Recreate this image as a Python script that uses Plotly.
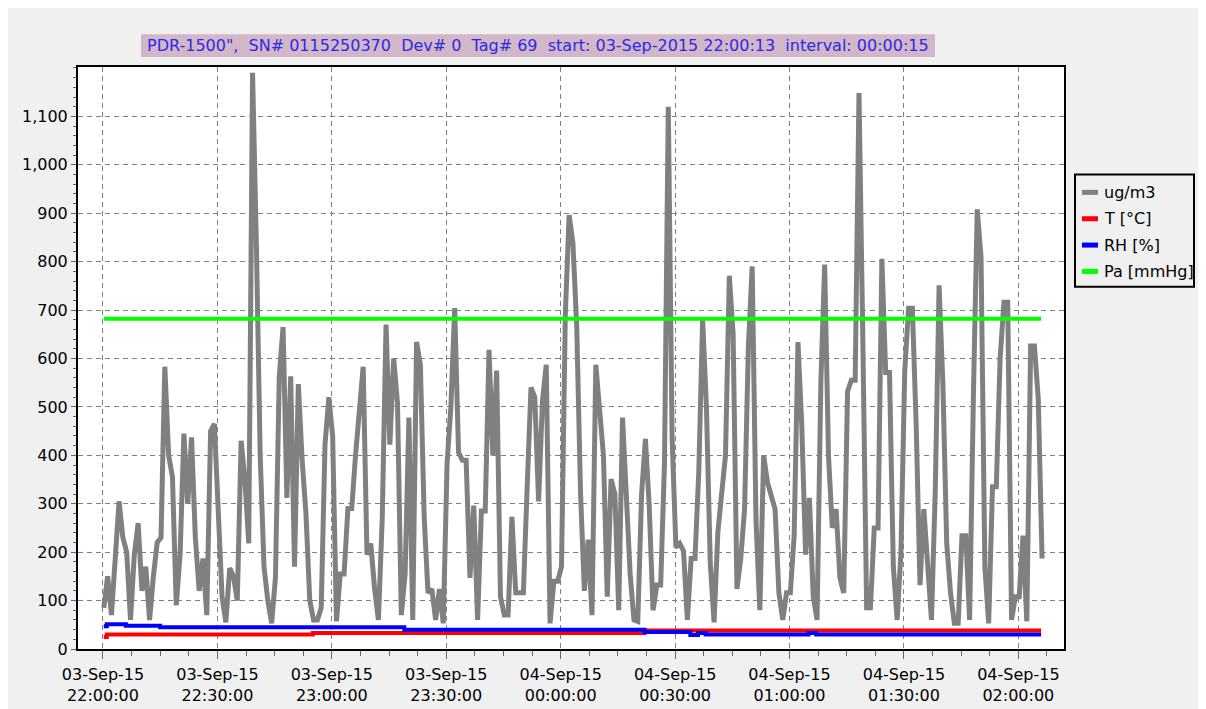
import pandas as pd
import plotly.graph_objects as go

START = "2015-09-03 22:00:13"
END = "2015-09-04 02:05:58"

# ug/m3, one reading per minute from the start time
dust = [85, 150, 70, 200, 305, 230, 200, 60, 195, 260,
        120, 170, 60, 150, 220, 230, 583, 400, 355, 90,
        195, 445, 300, 437, 230, 120, 187, 70, 450, 465,
        305, 108, 55, 167, 150, 100, 430, 350, 218, 1190,
        837, 400, 170, 100, 53, 147, 563, 665, 312, 563,
        170, 547, 390, 280, 100, 60, 60, 85, 422, 520,
        440, 57, 155, 155, 290, 290, 400, 492, 583, 195,
        218, 124, 60, 270, 670, 422, 600, 508, 70, 155,
        478, 60, 634, 587, 273, 116, 124, 60, 124, 53,
        383, 500, 704, 406, 390, 390, 147, 296, 60, 285,
        285, 618, 400, 575, 108, 70, 70, 273, 116, 116,
        116, 335, 540, 520, 305, 512, 587, 53, 140, 140,
        170, 690, 896, 838, 665, 320, 120, 226, 70, 587,
        496, 400, 108, 351, 320, 80, 478, 335, 155, 60,
        57, 320, 434, 296, 80, 132, 132, 383, 1120, 437,
        210, 218, 202, 60, 187, 187, 367, 681, 500, 179,
        55, 242, 328, 400, 771, 650, 124, 187, 289, 626,
        790, 265, 80, 400, 344, 313, 289, 116, 60, 116,
        116, 234, 634, 461, 195, 312, 108, 60, 551, 794,
        400, 250, 289, 147, 116, 532, 555, 555, 1148, 642,
        85, 85, 250, 250, 806, 571, 571, 170, 60, 200,
        575, 704, 704, 461, 132, 289, 187, 60, 328, 751,
        547, 218, 116, 53, 53, 234, 234, 60, 524, 908,
        810, 170, 53, 335, 335, 600, 716, 716, 60, 108,
        108, 234, 57, 626, 626, 516, 187]

t_times = ["2015-09-03 22:00:13", "2015-09-03 22:01:00", "2015-09-03 22:55:00",
           "2015-09-04 00:22:00", END]
t_vals = [25, 30, 33, 38, 38]

rh_times = ["2015-09-03 22:00:13", "2015-09-03 22:01:00", "2015-09-03 22:06:00",
            "2015-09-03 22:15:00", "2015-09-03 23:19:00", "2015-09-04 00:22:00",
            "2015-09-04 00:34:00", "2015-09-04 00:36:00", "2015-09-04 00:38:00",
            "2015-09-04 01:05:00", "2015-09-04 01:07:00", END]
rh_vals = [47, 51, 48, 45, 40, 35, 29, 33, 30, 33, 30, 30]

pa_times = [START, END]
pa_vals = [682, 682]

y_ticks = [0, 100, 200, 300, 400, 500, 600, 700, 800, 900, 1000, 1100]

series_names = ["ug/m3", "T [°C]", "RH [%]", "Pa [mmHg]"]
series_colors = ["#808080", "#ff0000", "#0000ff", "#00ff00"]

title_text = ("PDR-1500\",\u00a0 SN# 0115250370\u00a0 Dev# 0\u00a0 Tag# 69\u00a0 "
              "start: 03-Sep-2015 22:00:13\u00a0 interval: 00:00:15")

dust_times = pd.date_range(START, periods=len(dust), freq="1min")

FONT = "DejaVu Sans, Verdana, sans-serif"
L, R, T, B = 70, 150, 59, 65
W, H = 1206, 709
PW, PH = W - L - R, H - T - B


def px(x):  # figure pixel -> paper x
    return (x - L) / PW


def py(y):  # figure pixel -> paper y
    return (H - B - y) / PH


fig = go.Figure()
xs = [dust_times, t_times, rh_times, pa_times]
ys = [dust, t_vals, rh_vals, pa_vals]
for i in range(4):
    fig.add_trace(go.Scatter(
        x=xs[i], y=ys[i], mode="lines", name=series_names[i], showlegend=False,
        line=dict(color=series_colors[i], width=5 if i == 0 else 4,
                  shape="hv" if i in (1, 2) else "linear")))

shapes = [
    # title box
    dict(type="rect", xref="paper", yref="paper", x0=px(133), x1=px(927), y0=py(49), y1=py(26),
         fillcolor="#d4b6c9", line=dict(width=0), layer="below"),
    # legend box
    dict(type="rect", xref="paper", yref="paper", x0=px(1067), x1=px(1186), y0=py(280), y1=py(167),
         fillcolor="#f0f0f0", line=dict(color="#000000", width=2)),
]
annotations = [dict(text=title_text, xref="paper", yref="paper", x=px(530), y=py(37.5),
                    xanchor="center", yanchor="middle", showarrow=False,
                    font=dict(family=FONT, size=16, color="#2a2ae8"))]
leg_y = [185, 211.5, 238, 264.5]
for i in range(4):
    shapes.append(dict(type="line", xref="paper", yref="paper", x0=px(1074), x1=px(1090),
                       y0=py(leg_y[i]), y1=py(leg_y[i]),
                       line=dict(color=series_colors[i], width=5)))
    annotations.append(dict(text=series_names[i], xref="paper", yref="paper",
                            x=px(1094), y=py(leg_y[i]), xanchor="left", yanchor="middle",
                            showarrow=False, font=dict(family=FONT, size=16, color="#000000")))

fig.update_layout(
    width=W, height=H,
    paper_bgcolor="#f0f0f0", plot_bgcolor="white",
    margin=dict(l=L, r=R, t=T, b=B),
    font=dict(family=FONT, size=16, color="#000000"),
    showlegend=False,
    shapes=shapes,
    annotations=annotations,
)

fig.update_xaxes(
    type="date",
    range=["2015-09-03 21:53:27", "2015-09-04 02:11:58"],
    tick0="2015-09-03 22:00:00", dtick=30 * 60 * 1000,
    tickformat="%d-%b-%y<br>%H:%M:%S",
    showgrid=True, gridcolor="#808080", griddash="5px,4px", gridwidth=1,
    ticks="outside", ticklen=8, tickcolor="#666666", ticklabelstandoff=2,
    minor=dict(dtick=7.5 * 60 * 1000, ticks="outside", ticklen=5, tickcolor="#666666",
               showgrid=False),
    showline=True, linecolor="#000000", linewidth=2, mirror=True,
    zeroline=False,
)
fig.update_yaxes(
    range=[0, 1202], tickmode="array", tickvals=y_ticks, tickformat=",d",
    showgrid=True, gridcolor="#808080", griddash="5px,4px", gridwidth=1,
    ticks="outside", ticklen=5, tickcolor="#666666",
    minor=dict(dtick=20, ticks="outside", ticklen=3, tickcolor="#666666", showgrid=False),
    showline=True, linecolor="#000000", linewidth=2, mirror=True,
    zeroline=False,
)

fig.write_html("out.html")
